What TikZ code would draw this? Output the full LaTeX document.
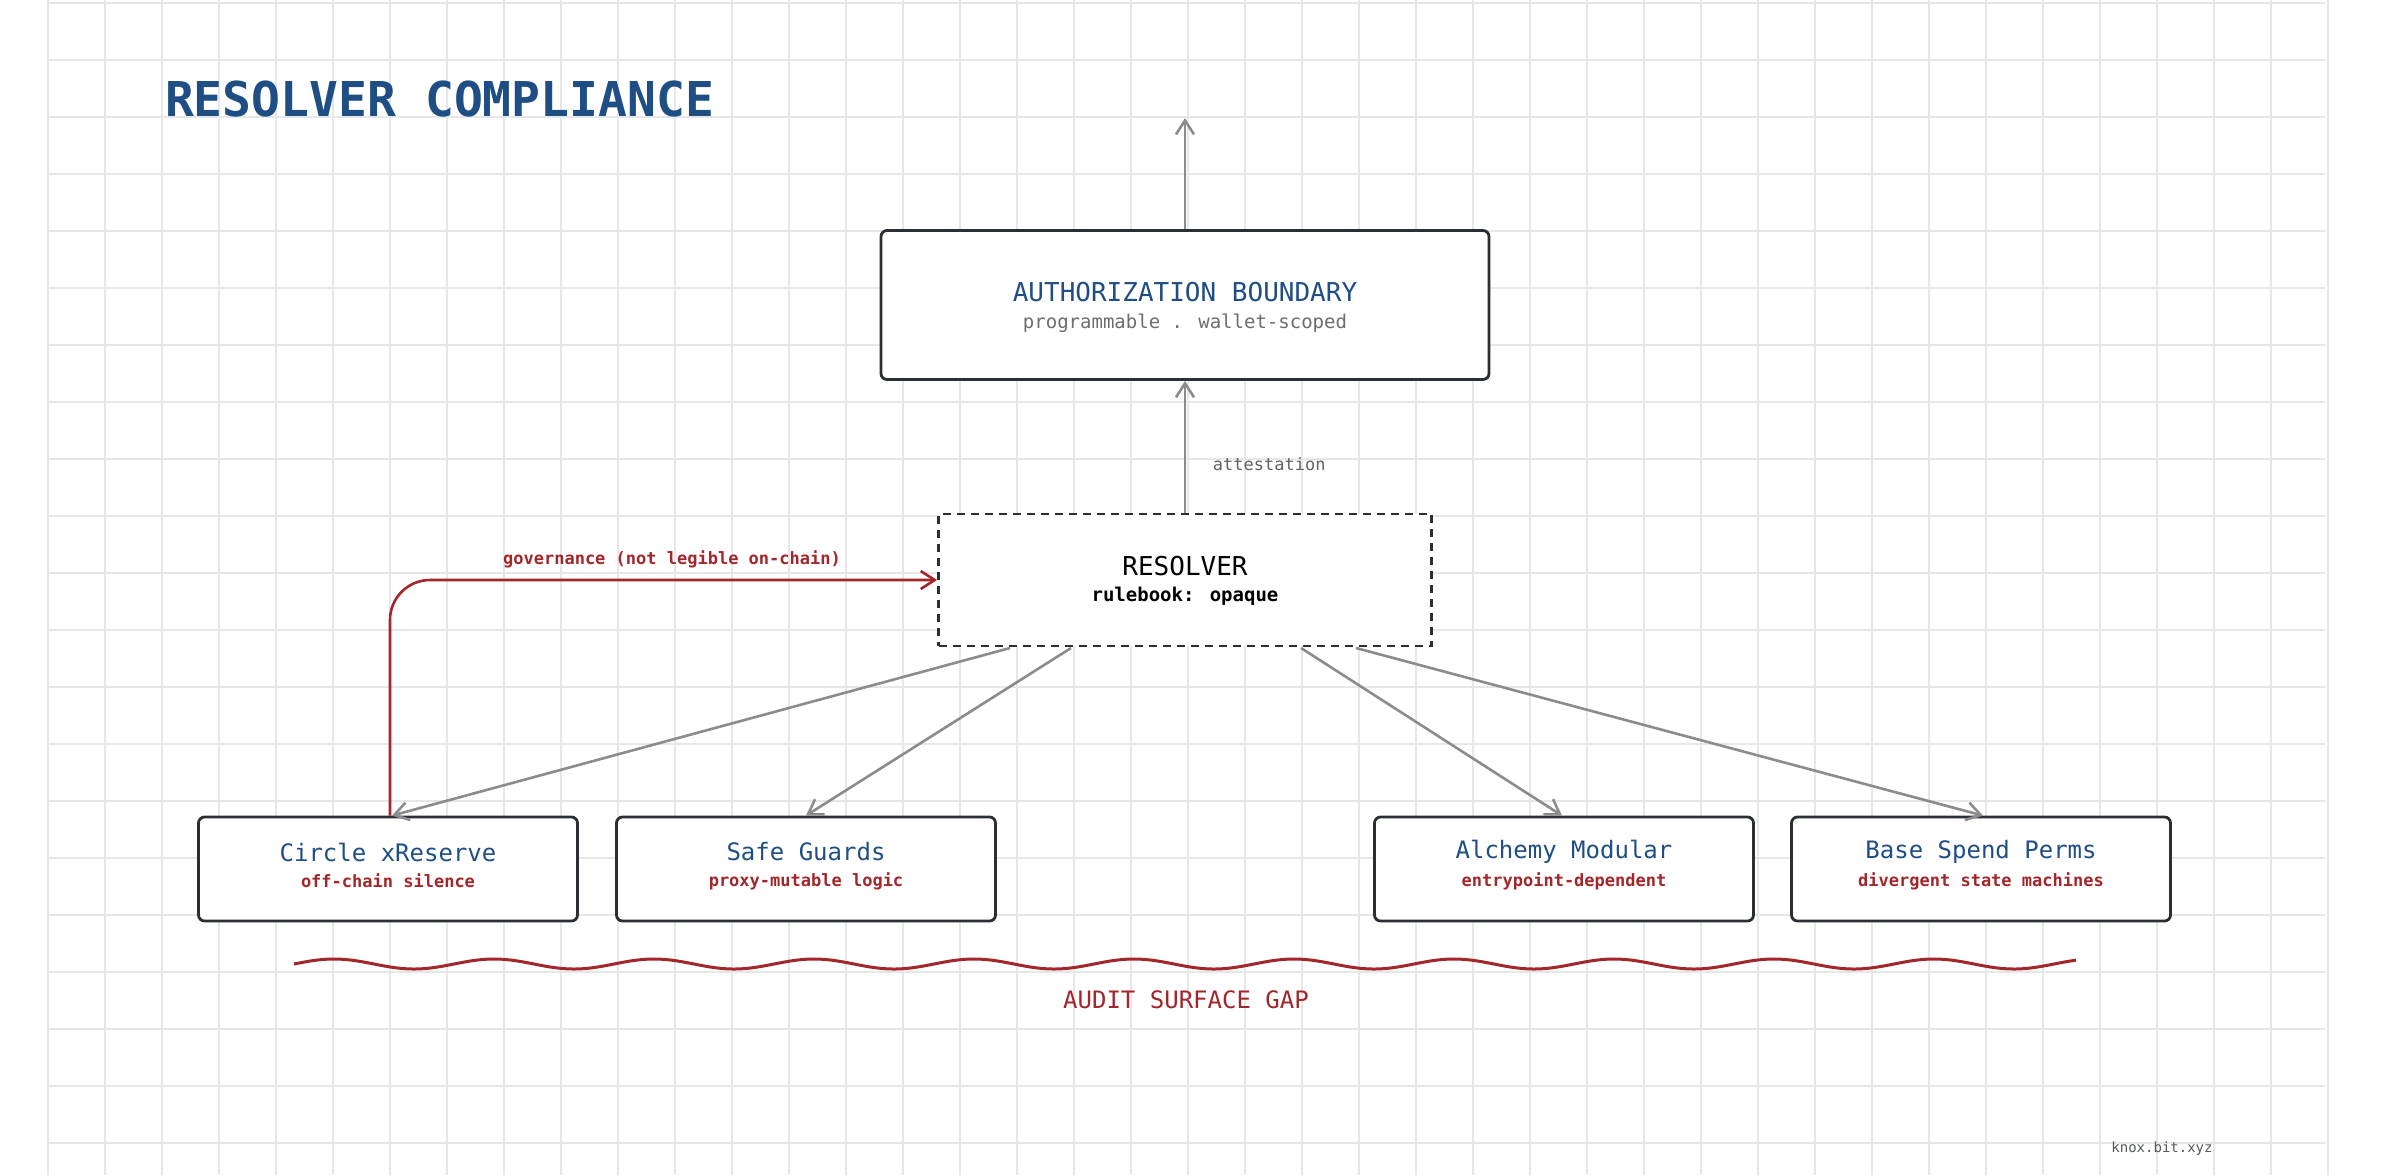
\documentclass[tikz,border=0pt]{standalone}
\usepackage{fontspec}
\setmainfont{DejaVu Sans Mono}
\usetikzlibrary{arrows.meta}
\definecolor{tblue}{HTML}{1F4E85}
\definecolor{tred}{HTML}{A3262A}
\definecolor{tgray}{HTML}{8A8C8E}
\definecolor{tdark}{HTML}{2B2F33}
\definecolor{tgrid}{HTML}{E6E7E9}
\begin{document}
\begin{tikzpicture}[x=0.5pt,y=-0.5pt,
  box/.style={draw=tdark,line width=1.4pt,rounded corners=3pt,fill=white,align=center,inner sep=0pt},
  conn/.style={draw=tgray,line width=1.3pt,-{Straight Barb[length=7pt,width=9pt]}},
  gov/.style={draw=tred,line width=1.3pt,-{Straight Barb[length=7pt,width=9pt]}},
  ttl/.style={font=\fontsize{12}{14}\selectfont,text=tblue},
  sub/.style={font=\fontsize{8.5}{10}\selectfont\bfseries,text=tred}]
\useasboundingbox (0,0) rectangle (2400,1175);
\fill[white] (0,0) rectangle (2400,1175);
\foreach \x in {48,105,...,2330} \draw[tgrid,line width=0.6pt] (\x,0) -- (\x,1175);
\foreach \y in {3,60,...,1175} \draw[tgrid,line width=0.6pt] (48,\y) -- (2325,\y);
\node[anchor=west,text=tblue,font=\fontsize{24}{28}\selectfont\bfseries] (title) at (158,99) {RESOLVER COMPLIANCE};
\node[box,minimum width=304pt,minimum height=74.5pt] (auth) at (1185,305) {};
\node[ttl,font=\fontsize{13}{15}\selectfont] (authT) at (1185,292) {AUTHORIZATION BOUNDARY};
\node[font=\fontsize{9.5}{11}\selectfont,text=tdark!70] (authS) at (1185,323) {programmable . wallet-scoped};
\node[draw=tdark,line width=1.4pt,dash pattern=on 4pt off 3pt,minimum width=246.5pt,minimum height=66pt,fill=white] (res) at (1185,580) {};
\node[font=\fontsize{13}{15}\selectfont,text=black] (resT) at (1185,566) {RESOLVER};
\node[font=\fontsize{9.5}{11}\selectfont\bfseries,text=black] (resS) at (1185,596) {rulebook: opaque};
\coordinate (top) at (1185,118);
\draw[conn] (auth.north) -- (top);
\draw[conn] (res.north) -- node[right,pos=0.37,font=\fontsize{8.5}{10}\selectfont,text=tdark!75,xshift=10pt]{attestation} (auth.south);
\foreach \n/\cx/\t/\s in {c/388/Circle xReserve/off-chain silence, s/806/Safe Guards/proxy-mutable logic, a/1564/Alchemy Modular/entrypoint-dependent, b/1981/Base Spend Perms/divergent state machines}{
  \node[box,minimum width=189.5pt,minimum height=52pt] (\n) at (\cx,869) {};
  \node[ttl] (\n T) at (\cx,852) {\t};
  \node[sub] (\n S) at (\cx,881) {\s};
}
\coordinate (r1) at (1010,648); \coordinate (r2) at (1071,648);
\coordinate (r3) at (1301,648); \coordinate (r4) at (1356,648);
\draw[conn] (r1) -- (c.north-|392,0);
\draw[conn] (r2) -- (s.north);
\draw[conn] (r3) -- (a.north-|1562,0);
\draw[conn] (r4) -- (b.north-|1983,0);
\draw[gov,rounded corners=20pt] (c.north-|390,0) -- (390,580) -- (res.west);
\node[font=\fontsize{8.5}{10}\selectfont\bfseries,text=tred] (govL) at (672,559) {governance (not legible on-chain)};
\draw[tred,line width=1.5pt] plot[domain=294:2076,samples=300,smooth] (\x,{964-5*sin(2.25*(\x-294))});
\node[font=\fontsize{12}{14}\selectfont,text=tred] (gap) at (1186,1000) {AUDIT SURFACE GAP};
\node[font=\fontsize{7}{8}\selectfont,text=tdark!80] (knox) at (2162,1149) {knox.bit.xyz};
\end{tikzpicture}
\end{document}
